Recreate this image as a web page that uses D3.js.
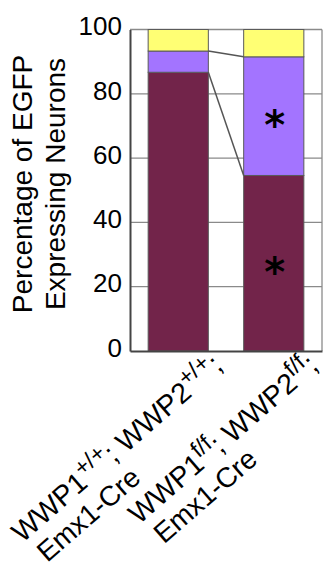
<!DOCTYPE html>
<html>
<head>
<meta charset="utf-8">
<script src="https://cdn.jsdelivr.net/npm/d3@7/dist/d3.min.js"></script>
<style>
  html, body { margin: 0; padding: 0; background: #fff; }
  svg { display: block; }
  text { font-family: "Liberation Sans", Arial, Helvetica, sans-serif; fill: #000; }
</style>
</head>
<body>
<svg id="chart" width="326" height="574"></svg>
<script>
// ---- data ----
const categories = ["WWP1+/+; WWP2+/+; Emx1-Cre", "WWP1f/f; WWP2f/f; Emx1-Cre"];
const labelParts = [
  [["WWP1", false], ["+/+", true], ["; WWP2", false], ["+/+", true], [";", false]],
  [["WWP1", false], ["f/f", true], ["; WWP2", false], ["f/f", true], [";", false]]
];
const labelLine2 = ["Emx1-Cre", "Emx1-Cre"];
const seriesNames = ["bottom", "middle", "top"];
const bottomValues = [86.7, 54.6];
const middleValues = [6.6, 36.9];
const topValues = [6.7, 8.5];
const seriesColors = ["#72244a", "#a374ff", "#ffff74"];
const yTicks = [0, 20, 40, 60, 80, 100];
const significance = [[], ["bottom", "middle"]];
const yTitle = ["Percentage of EGFP", "Expressing Neurons"];

// ---- layout ----
const svg = d3.select("#chart");
const plotL = 130, plotR = 322, plotT = 29.5, plotB = 351;

const x = d3.scaleBand().domain(categories).range([plotL, plotR])
  .paddingInner(0.37).paddingOuter(0.19);
const y = d3.scaleLinear().domain([0, 100]).range([plotB, plotT]);

const table = categories.map((c, i) => ({
  cat: c, bottom: bottomValues[i], middle: middleValues[i], top: topValues[i]
}));
const stacked = d3.stack().keys(seriesNames)(table);

// gridlines
svg.append("g").selectAll("line").data(yTicks.filter(t => t > 0 && t < 100)).join("line")
  .attr("x1", plotL).attr("x2", plotR)
  .attr("y1", d => y(d)).attr("y2", d => y(d))
  .attr("stroke", "#8a8a8a").attr("stroke-width", 1.3);

// frame top/right
svg.append("line").attr("x1", plotL).attr("x2", plotR).attr("y1", y(100)).attr("y2", y(100))
  .attr("stroke", "#8a8a8a").attr("stroke-width", 1.3);
svg.append("line").attr("x1", plotR).attr("x2", plotR).attr("y1", y(100)).attr("y2", y(0))
  .attr("stroke", "#8a8a8a").attr("stroke-width", 1.3);

// bars
const gBars = svg.append("g");
stacked.forEach((s, si) => {
  gBars.append("g").selectAll("rect").data(s).join("rect")
    .attr("x", d => x(d.data.cat))
    .attr("width", x.bandwidth())
    .attr("y", d => y(d[1]))
    .attr("height", d => y(d[0]) - y(d[1]))
    .attr("fill", seriesColors[si])
    .attr("stroke", "#5a5a5a").attr("stroke-width", 1);
});

// connector lines between bars
const c0 = categories[0], c1 = categories[1];
[0, 1].forEach(si => {
  const v0 = stacked[si][0][1], v1 = stacked[si][1][1];
  svg.append("line")
    .attr("x1", x(c0) + x.bandwidth()).attr("y1", y(v0))
    .attr("x2", x(c1)).attr("y2", y(v1))
    .attr("stroke", "#555").attr("stroke-width", 1.5);
});

// significance asterisks
significance.forEach((keys, ci) => {
  keys.forEach(k => {
    const si = seriesNames.indexOf(k);
    const d = stacked[si][ci];
    const cy = (y(d[0]) + y(d[1])) / 2;
    svg.append("text")
      .attr("x", x(categories[ci]) + x.bandwidth() / 2 + 1)
      .attr("y", cy + 23)
      .attr("text-anchor", "middle")
      .style("font-family", "'DejaVu Sans', sans-serif")
      .style("font-weight", "bold")
      .style("font-size", "40px")
      .text("*");
  });
});

// axes (left & bottom)
const yAxis = d3.axisLeft(y).tickValues(yTicks).tickSize(0).tickPadding(8);
const gy = svg.append("g").attr("transform", `translate(${plotL},0)`).call(yAxis);
gy.select(".domain").attr("stroke", "#444").attr("stroke-width", 2);
gy.selectAll("text").style("font-size", "26px").attr("dy", "0.2em")
  .style("font-family", "'Liberation Sans', Arial, sans-serif");

const xAxis = d3.axisBottom(x).tickSize(0).tickFormat("");
const gx = svg.append("g").attr("transform", `translate(0,${plotB})`).call(xAxis);
gx.select(".domain").attr("stroke", "#444").attr("stroke-width", 2);

// x labels
const angle = -41;
categories.forEach((c, i) => {
  const g = svg.append("g")
    .attr("transform", `translate(${x(c) + x.bandwidth() / 2 + 46},368) rotate(${angle})`);
  const t1 = g.append("text").attr("x", 0).attr("y", 0).attr("text-anchor", "end")
    .style("font-size", "28.5px");
  labelParts[i].forEach(([str, sup], k) => {
    if (sup) {
      t1.append("tspan").attr("dy", -11).style("font-size", "23px").text(str);
    } else {
      t1.append("tspan").attr("dy", k > 0 ? 11 : 0).text(str);
    }
  });
  const L = t1.node().getComputedTextLength();
  g.append("text").attr("x", -L + 6).attr("y", 31).attr("text-anchor", "start")
    .style("font-size", "28px").text(labelLine2[i]);
});

// y title
const gt = svg.append("g").attr("transform", "translate(0,184) rotate(-90)");
gt.append("text").attr("x", 0).attr("y", 31.5).attr("text-anchor", "middle")
  .style("font-size", "28px").text(yTitle[0]);
gt.append("text").attr("x", 0).attr("y", 65).attr("text-anchor", "middle")
  .style("font-size", "28px").text(yTitle[1]);
</script>
</body>
</html>
